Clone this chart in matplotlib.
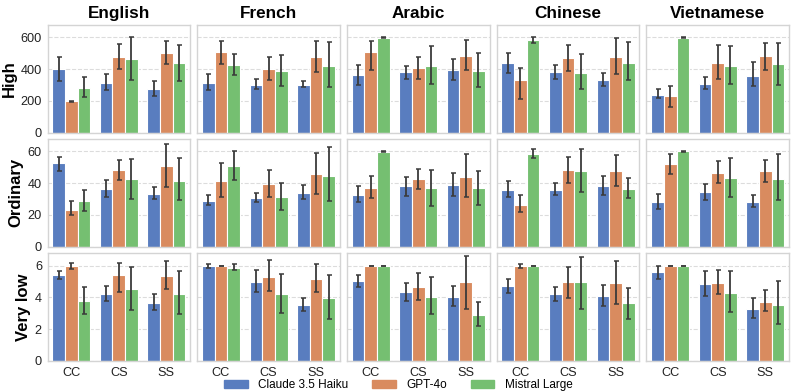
import matplotlib
matplotlib.use("Agg")
import matplotlib.pyplot as plt
import numpy as np
import seaborn as sns
from matplotlib.patches import Patch

LANGUAGES = ["English", "French", "Arabic", "Chinese", "Vietnamese"]
LEVELS = ["High", "Ordinary", "Very low"]
CONDITIONS = ["CC", "CS", "SS"]
MODELS = ["Claude 3.5 Haiku", "GPT-4o", "Mistral Large"]

# values per language -> model -> condition (CC, CS, SS)
HIGH_MEAN = [
    [[400, 313, 273], [197, 474, 500], [279, 461, 438]],
    [[311, 300, 300], [504, 402, 474], [423, 385, 421]],
    [[360, 381, 397], [508, 408, 485], [597, 416, 387]],
    [[439, 379, 331], [328, 467, 477], [580, 372, 441]],
    [[236, 308, 358], [232, 441, 479], [598, 418, 431]],
]
HIGH_LO = [
    [[327, 265, 229], [194, 400, 432], [227, 330, 327]],
    [[267, 273, 284], [432, 330, 381], [360, 294, 284]],
    [[300, 339, 333], [393, 335, 395], [593, 305, 285]],
    [[377, 335, 293], [213, 387, 370], [561, 272, 328]],
    [[215, 274, 293], [163, 337, 395], [596, 308, 301]],
]
HIGH_HI = [
    [[474, 368, 327], [200, 555, 576], [349, 600, 549]],
    [[368, 338, 324], [574, 474, 576], [497, 491, 567]],
    [[425, 422, 466], [575, 477, 584], [600, 546, 498]],
    [[500, 427, 377], [408, 554, 598], [600, 492, 571]],
    [[272, 347, 446], [295, 554, 565], [600, 544, 565]],
]

ORD_MEAN = [
    [[52.4, 36.1, 32.9], [23.1, 48.0, 50.5], [28.7, 42.6, 41.5]],
    [[29.0, 30.5, 34.0], [41.5, 39.5, 45.5], [50.5, 31.0, 44.5]],
    [[32.5, 37.9, 38.7], [37.0, 42.3, 44.0], [59.6, 36.6, 36.8]],
    [[35.8, 35.8, 37.9], [26.3, 48.0, 47.8], [58.3, 47.4, 36.2]],
    [[28.0, 34.1, 28.4], [51.8, 46.5, 47.4], [59.8, 43.2, 42.3]],
]
ORD_LO = [
    [[47.8, 31.2, 29.8], [19.7, 41.7, 37.5], [22.6, 30.2, 29.4]],
    [[26.5, 28.0, 30.0], [31.5, 31.5, 33.0], [42.0, 23.0, 28.5]],
    [[28.0, 32.0, 31.8], [30.5, 36.0, 31.4], [59.2, 25.9, 26.3]],
    [[31.0, 32.2, 32.6], [21.7, 40.2, 38.3], [55.4, 34.5, 30.5]],
    [[23.8, 29.5, 25.0], [45.9, 40.0, 40.6], [59.6, 31.0, 29.3]],
]
ORD_HI = [
    [[56.6, 41.7, 37.3], [28.9, 54.7, 64.2], [35.6, 55.1, 55.5]],
    [[32.5, 34.0, 39.0], [52.5, 48.0, 59.0], [60.0, 40.0, 62.5]],
    [[38.0, 43.8, 46.5], [44.5, 48.6, 58.5], [60.0, 48.0, 47.8]],
    [[41.0, 40.0, 44.4], [32.6, 56.4, 57.7], [61.5, 61.5, 43.2]],
    [[33.3, 39.6, 32.6], [58.5, 53.7, 54.7], [60.0, 55.8, 58.1]],
]

VLOW_MEAN = [
    [[5.38, 4.22, 3.66], [5.96, 5.42, 5.33], [3.80, 4.54, 4.22]],
    [[5.96, 4.98, 3.51], [5.98, 5.31, 5.15], [5.86, 4.22, 3.95]],
    [[5.00, 4.31, 4.02], [5.98, 4.64, 4.96], [5.98, 4.04, 2.87]],
    [[4.71, 4.21, 4.08], [5.96, 4.94, 4.90], [5.98, 4.94, 3.62]],
    [[5.59, 4.83, 3.28], [5.98, 4.92, 3.72], [5.98, 4.29, 3.51]],
]
VLOW_LO = [
    [[5.17, 3.80, 3.18], [5.80, 4.37, 4.54], [2.97, 3.18, 2.97]],
    [[5.84, 4.33, 3.12], [5.95, 4.39, 4.31], [5.71, 3.01, 2.64]],
    [[4.67, 3.79, 3.43], [5.95, 3.85, 3.28], [5.95, 2.95, 2.22]],
    [[4.27, 3.77, 3.45], [5.84, 3.97, 3.60], [5.95, 3.28, 2.66]],
    [[5.17, 4.10, 2.70], [5.95, 4.20, 3.12], [5.95, 3.10, 2.30]],
]
VLOW_HI = [
    [[5.69, 4.70, 4.22], [6.15, 6.15, 6.28], [4.65, 5.90, 5.63]],
    [[6.09, 5.73, 3.99], [6.00, 6.32, 6.10], [6.10, 5.48, 5.42]],
    [[5.42, 4.90, 4.69], [6.00, 5.54, 6.63], [6.00, 5.29, 3.70]],
    [[5.17, 4.67, 4.77], [6.09, 5.88, 6.30], [6.00, 6.51, 4.60]],
    [[6.00, 5.63, 3.95], [6.00, 5.75, 4.48], [6.00, 5.67, 5.02]],
]

Y_TICKS = [[0, 200, 400, 600], [0, 20, 40, 60], [0, 2, 4, 6]]
Y_TOP = [680, 67.8, 6.8]

plt.rcParams["font.family"] = ["Liberation Sans", "DejaVu Sans"]

colors = [sns.desaturate(c, 0.75) for c in sns.color_palette("muted", 3)]
data = [
    (HIGH_MEAN, HIGH_LO, HIGH_HI),
    (ORD_MEAN, ORD_LO, ORD_HI),
    (VLOW_MEAN, VLOW_LO, VLOW_HI),
]

fig, axes = plt.subplots(3, 5, figsize=(7.97, 3.92), dpi=100, sharex=True)
fig.subplots_adjust(left=0.0596, right=0.990, top=0.9375, bottom=0.0791,
                    wspace=0.05, hspace=0.056)

x = np.arange(len(CONDITIONS))
width = 0.8 / len(MODELS)

for r, (mean, lo, hi) in enumerate(data):
    for c, lang in enumerate(LANGUAGES):
        ax = axes[r, c]
        for m in range(len(MODELS)):
            vals = np.array(mean[c][m])
            los = np.array(lo[c][m])
            his = np.array(hi[c][m])
            pos = x - 0.4 + width * (m + 0.5)
            ax.bar(pos, vals, width, color=colors[m], edgecolor="white",
                   linewidth=0.8, zorder=2)
            ax.errorbar(pos, vals, yerr=[vals - los, his - vals], fmt="none",
                        ecolor="#3a3a3a", elinewidth=1.3, capsize=1.8,
                        capthick=1.1, zorder=3)
        ax.set_xlim(-0.5, 2.5)
        ax.set_ylim(0, Y_TOP[r])
        ax.set_yticks(Y_TICKS[r])
        ax.yaxis.grid(True, ls="--", color="#dcdcdc", lw=0.8, zorder=0)
        ax.xaxis.grid(False)
        ax.set_axisbelow(True)
        for s in ax.spines.values():
            s.set_color("#d4d4d4")
            s.set_linewidth(1.0)
        ax.tick_params(length=0, labelsize=9.2, pad=4, colors="#222222")
        ax.set_xticks(x)
        ax.set_xticklabels(CONDITIONS)
        if c > 0:
            ax.set_yticklabels([])
        else:
            ax.set_ylabel(LEVELS[r], fontsize=12, fontweight="bold", labelpad=3)
        if r == 0:
            ax.set_title(lang, fontsize=12.3, fontweight="bold", pad=5)

handles = [Patch(color=colors[m], label=MODELS[m]) for m in range(len(MODELS))]
fig.legend(handles=handles, loc="center", bbox_to_anchor=(0.5, 0.018), ncol=3,
           frameon=False, fontsize=8.5, handlelength=2.0, handleheight=0.7,
           handletextpad=0.9, columnspacing=2.0, borderaxespad=0)

fig.savefig("out.png", dpi=100)
